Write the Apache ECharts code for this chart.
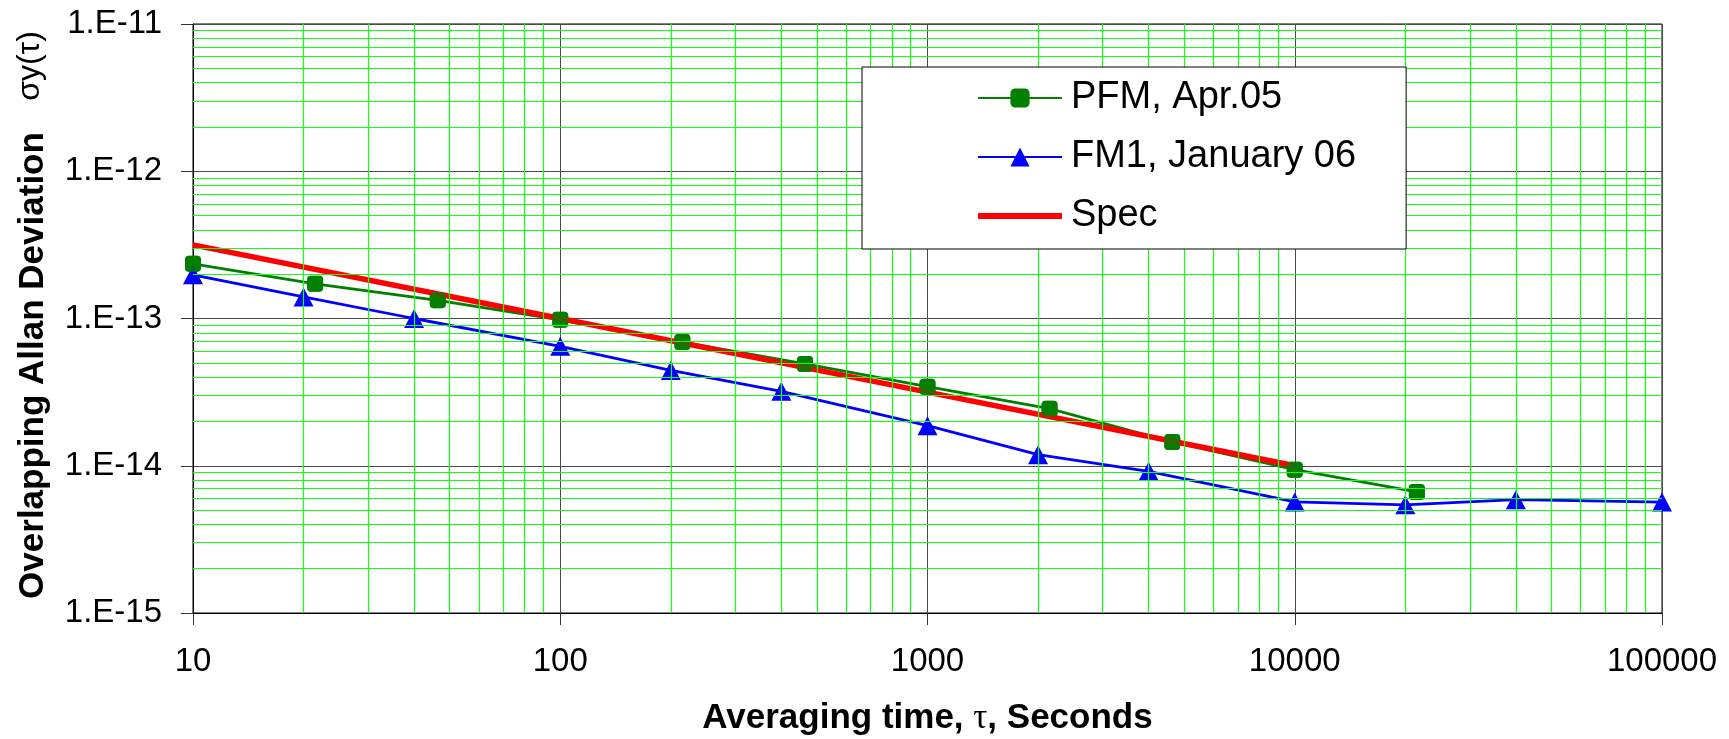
<!DOCTYPE html>
<html>
<head>
<meta charset="utf-8">
<script src="https://cdn.jsdelivr.net/npm/echarts@6/dist/echarts.min.js"></script>
<style>
  html, body { margin: 0; padding: 0; background: #ffffff; }
  #chart { width: 1729px; height: 739px; }
</style>
</head>
<body>
<div id="chart"></div>
<script>
// Overlapping Allan deviation of two units against the specification line
const tauPFM  = [10, 21.5, 46.4, 100, 215, 464, 1000, 2150, 4640, 10000, 21500];
const adevPFM = [2.35e-13, 1.72e-13, 1.33e-13, 9.8e-14, 6.92e-14, 4.91e-14, 3.44e-14, 2.44e-14, 1.45e-14, 9.4e-15, 6.64e-15];

const tauFM1  = [10, 20, 40, 100, 200, 400, 1000, 2000, 4000, 10000, 20000, 40000, 100000];
const adevFM1 = [1.98e-13, 1.40e-13, 1.00e-13, 6.47e-14, 4.44e-14, 3.20e-14, 1.87e-14, 1.19e-14, 9.16e-15, 5.68e-15, 5.43e-15, 5.88e-15, 5.67e-15];

const tauSpec  = [10, 100, 1000, 10000];
const adevSpec = [3.16e-13, 1.0e-13, 3.16e-14, 1.0e-14];

const seriesNames = ['PFM, Apr.05', 'FM1, January 06', 'Spec'];
const xTickLabels = ['10', '100', '1000', '10000', '100000'];
const yTickLabels = ['1.E-15', '1.E-14', '1.E-13', '1.E-12', '1.E-11'];
const yTitle = 'Overlapping Allan Deviation';
const ySymbol = 'σy(τ)';

const X_MIN = 10, X_MAX = 100000, Y_MIN = 1e-15, Y_MAX = 1e-11;

const SANS = '"Liberation Sans", Arial, sans-serif';
const SERIF = '"Liberation Serif", "DejaVu Serif", serif';

// 2..9 sub-decade grid positions for a log axis
function subDecades(loExp, hiExp) {
  const out = [];
  for (let e = loExp; e < hiExp; e++) {
    for (let m = 2; m <= 9; m++) out.push(m * Math.pow(10, e));
  }
  return out;
}
const xMinor = subDecades(1, 5);
const yMinor = subDecades(-15, -11);

const minorLines = []
  .concat(xMinor.map(v => [{ coord: [v, Y_MIN] }, { coord: [v, Y_MAX] }]))
  .concat(yMinor.map(v => [{ coord: [X_MIN, v] }, { coord: [X_MAX, v] }]));

function pairs(xs, ys) { return xs.map((x, i) => [x, ys[i]]); }

const chart = echarts.init(document.getElementById('chart'), null, { renderer: 'canvas' });

chart.setOption({
  animation: false,
  backgroundColor: '#ffffff',
  grid: {
    left: 193, top: 24, right: 67, bottom: 126,
    outerBoundsMode: 'none',
    show: true, borderColor: '#000000', borderWidth: 1, backgroundColor: 'transparent'
  },
  // sigma_y(tau) symbol placed above the rotated y-axis title
  graphic: [{
    type: 'text',
    x: 30, y: 66,
    rotation: Math.PI / 2,
    silent: true,
    style: {
      text: ySymbol,
      fontFamily: SANS, fontSize: 32, fill: '#000000',
      align: 'center', verticalAlign: 'middle'
    }
  }],
  legend: {
    orient: 'vertical',
    left: 862, top: 67,
    padding: [12, 50, 14, 115],
    itemWidth: 84, itemHeight: 24, itemGap: 21,
    backgroundColor: '#ffffff', borderColor: '#000000', borderWidth: 1,
    z: 10,
    textStyle: { fontFamily: SANS, fontSize: 38, color: '#000000', padding: [0, 0, 0, 4] },
    data: [
      { name: seriesNames[0] },
      { name: seriesNames[1] },
      { name: seriesNames[2], icon: 'path://M0,0 L84,0 L84,6 L0,6 Z' }
    ]
  },
  xAxis: {
    type: 'log', logBase: 10, min: X_MIN, max: X_MAX, splitNumber: 4,
    name: '{b|Averaging time, }{tau|τ}{b|, Seconds}',
    nameLocation: 'middle', nameGap: 88,
    nameTextStyle: {
      fontSize: 35,
      rich: {
        b: { fontFamily: SANS, fontWeight: 'bold', fontSize: 35, color: '#000000' },
        tau: { fontFamily: SERIF, fontSize: 35, color: '#000000' }
      }
    },
    axisLine: { show: true, onZero: false, lineStyle: { color: '#000000', width: 1 } },
    axisTick: { show: true, inside: false, length: 12, lineStyle: { color: '#333333', width: 1 } },
    axisLabel: {
      margin: 32, fontFamily: SANS, fontSize: 33, color: '#000000',
      formatter: v => xTickLabels[Math.round(Math.log10(v)) - 1]
    },
    splitLine: { show: true, lineStyle: { color: '#4a4a4a', width: 1 } }
  },
  yAxis: {
    type: 'log', logBase: 10, min: Y_MIN, max: Y_MAX, splitNumber: 4,
    // trailing spacer leaves room for the sigma symbol above the title
    name: '{title|' + yTitle + '}{gap|}',
    nameLocation: 'middle', nameRotate: 90, nameGap: 142,
    nameTextStyle: {
      fontSize: 35,
      rich: {
        title: { fontFamily: SANS, fontWeight: 'bold', fontSize: 35, color: '#000000' },
        gap: { width: 94, fontSize: 35 }
      }
    },
    axisLine: { show: true, lineStyle: { color: '#000000', width: 1 } },
    axisTick: { show: true, inside: false, length: 12, lineStyle: { color: '#333333', width: 1 } },
    axisLabel: {
      margin: 31, fontFamily: SANS, fontSize: 33, color: '#000000',
      formatter: v => yTickLabels[Math.round(Math.log10(v)) + 15]
    },
    splitLine: { show: true, lineStyle: { color: '#4a4a4a', width: 1 } }
  },
  series: [
    {
      // sub-decade grid lines
      name: 'minor-grid', type: 'line', data: [], z: 1, silent: true,
      markLine: {
        silent: true, animation: false,
        symbol: ['none', 'none'],
        label: { show: false },
        lineStyle: { color: '#11ff11', width: 1.2, type: 'solid' },
        emphasis: { disabled: true },
        data: minorLines
      }
    },
    {
      name: seriesNames[0], type: 'line', z: 2,
      data: pairs(tauPFM, adevPFM),
      symbol: 'roundRect', symbolSize: 16, showAllSymbol: true,
      lineStyle: { color: '#007f00', width: 2.8 },
      itemStyle: { color: '#007f00' }
    },
    {
      name: seriesNames[1], type: 'line', z: 2,
      data: pairs(tauFM1, adevFM1),
      symbol: 'triangle', symbolSize: [20, 19], showAllSymbol: true,
      lineStyle: { color: '#0000ff', width: 2.8 },
      itemStyle: { color: '#0000ff' }
    },
    {
      name: seriesNames[2], type: 'line', z: 3,
      data: pairs(tauSpec, adevSpec),
      symbol: 'none',
      lineStyle: { color: '#ff0000', width: 5.5 },
      itemStyle: { color: '#ff0000' }
    },
    {
      // PFM markers kept above the spec line
      name: 'pfm-markers', type: 'scatter', z: 4, silent: true,
      data: pairs(tauPFM, adevPFM),
      symbol: 'roundRect', symbolSize: 16,
      itemStyle: { color: '#007f00' }
    }
  ]
});
</script>
</body>
</html>
